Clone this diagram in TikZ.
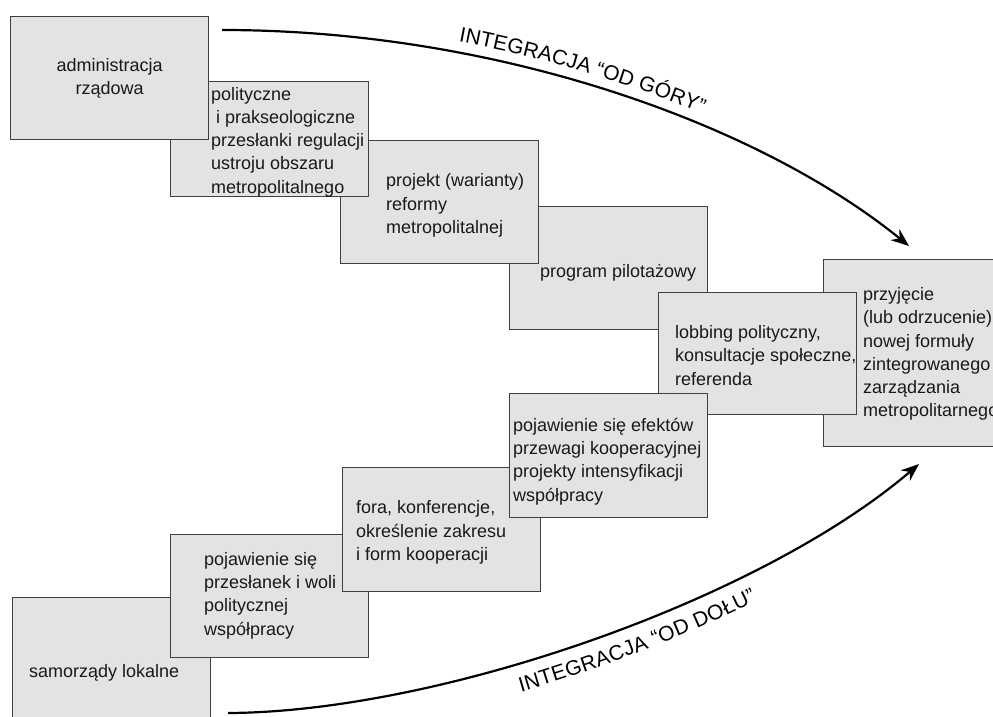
\documentclass[tikz,border=0pt]{standalone}
\usepackage{fontspec}
\setmainfont{Liberation Sans}
\usetikzlibrary{arrows.meta,decorations.text}

\newcommand{\napisfont}{\fontsize{21}{25}\selectfont}

\tikzset{
    krok/.style = {draw=black!75, fill=black!11, line width=1.4pt,
                   anchor=north west, inner sep=0pt,
                   minimum width=198pt, minimum height=123pt},
    opis/.style = {anchor=west, align=left, inner sep=0pt, text=black!90,
                   font=\fontsize{18}{23.3}\selectfont},
    strzalka/.style = {line width=2.2pt, -{Stealth[length=18pt, width=14pt]}}
}

\begin{document}
\begin{tikzpicture}[x=1pt, y=-1pt]
\useasboundingbox (0,0) rectangle (993,716);

% dolne schodki (od samorzadow)
\node[krok, minimum height=150pt] (samorzady) at (12,597) {};
\node[opis] (samorzady-t) at (29,672.5) {samorządy lokalne};
\node[krok] (wola) at (170,534) {};
\node[opis] (wola-t) at (204,595.5) {pojawienie się\\przesłanek i woli\\politycznej\\współpracy};
\node[krok, minimum height=124pt] (fora) at (342,467) {};
\node[opis] (fora-t) at (356,532.5) {fora, konferencje,\\określenie zakresu\\i form kooperacji};

% cel
\node[krok, minimum width=200pt, minimum height=187pt] (przyjecie) at (823,259) {};
\node[opis] (przyjecie-t) at (863,354) {przyjęcie\\(lub odrzucenie)\\nowej formuły\\zintegrowanego\\zarządzania\\metropolitarnego};

% gorne schodki (od administracji)
\node[krok] (pilotaz) at (509,206) {};
\node[opis] (pilotaz-t) at (540,272.5) {program pilotażowy};
\node[krok] (projekt) at (340,140) {};
\node[opis] (projekt-t) at (386,205.5) {projekt (warianty)\\reformy\\metropolitalnej};
\node[krok, minimum height=115pt] (przeslanki) at (170,81) {};
\node[opis] (przeslanki-t) at (211,142) {polityczne\\\hspace*{5pt}i prakseologiczne\\przesłanki regulacji\\ustroju obszaru\\metropolitalnego};
\node[krok, align=center, text=black!90, font=\fontsize{18}{23.3}\selectfont] (admin) at (10,16) {administracja\\rządowa};

\node[krok, minimum height=122pt] (lobbing) at (658,292) {};
\node[opis] (lobbing-t) at (675,355.5) {lobbing polityczny,\\konsultacje społeczne,\\referenda};
\node[krok, minimum height=124pt] (efekty) at (509,393) {};
\node[opis] (efekty-t) at (513,461.5) {pojawienie się efektów\\przewagi kooperacyjnej\\projekty intensyfikacji\\współpracy};

% strzalki integracji
\coordinate (gora-start) at (222,30);
\coordinate (gora-koniec) at (909,246);
\coordinate (dol-start) at (228,713);
\coordinate (dol-koniec) at (919,464);

\draw[strzalka, postaction={decorate, decoration={text along path, raise=11pt,
      text align={left indent=236pt}, text={|\napisfont|INTEGRACJA “OD GÓRY”}}}]
    (gora-start) .. controls (500,30) and (760,125) .. (gora-koniec);
\draw[strzalka, postaction={decorate, decoration={text along path, raise=-28pt,
      text align={left indent=290pt}, text={|\napisfont|INTEGRACJA “OD DOŁU”}}}]
    (dol-start) .. controls (440,712) and (760,600) .. (dol-koniec);
\end{tikzpicture}
\end{document}
